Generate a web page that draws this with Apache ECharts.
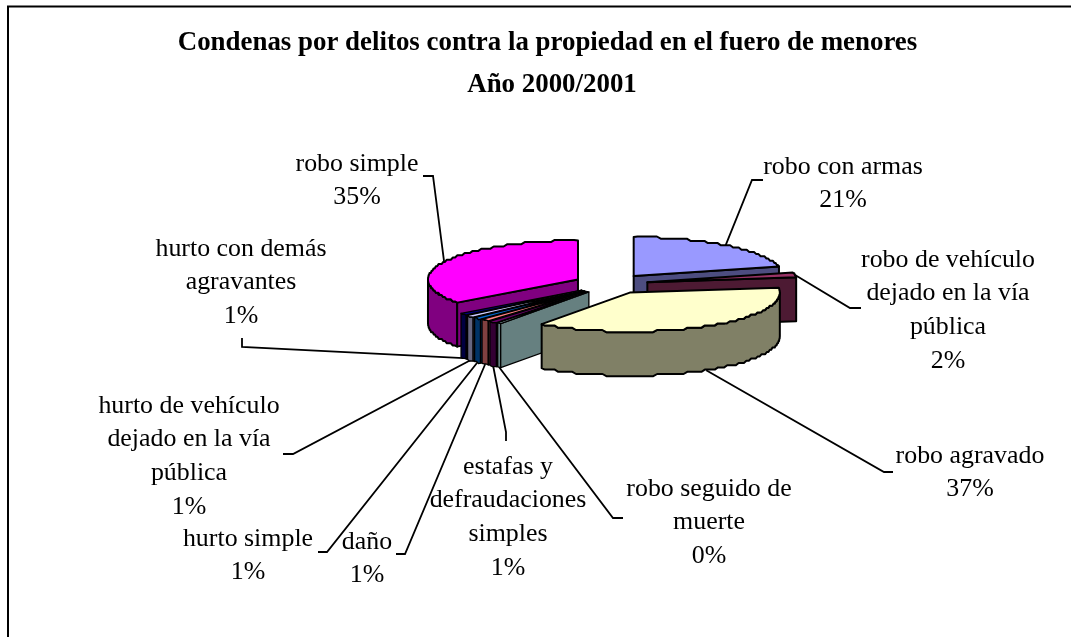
<!DOCTYPE html>
<html><head><meta charset="utf-8">
<style>html,body{margin:0;padding:0;background:#fff}#c{width:1071px;height:637px}</style>
<script src="https://cdn.jsdelivr.net/npm/echarts@6/dist/echarts.min.js"></script>
</head><body><div id="c"></div>
<script>
// ---- data, clockwise from 12 o'clock ----
const categories = ['robo con armas','robo de vehículo\ndejado en la vía\npública','robo agravado','robo seguido de\nmuerte','estafas y\ndefraudaciones\nsimples','daño','hurto simple','hurto de vehículo\ndejado en la vía\npública','hurto con demás\nagravantes','robo simple'];
const values = [21, 2, 37, 0.4, 0.9, 0.9, 0.9, 0.9, 0.9, 35.1];
const colors = ['#9999FF','#993366','#FFFFCC','#CCFFFF','#660066','#FF8080','#0066CC','#CCCCFF','#000080','#FF00FF'];
const sideColors = ['#4D4D80','#4D1A33','#808066','#668080','#330033','#804040','#003366','#666680','#000040','#800080'];
const titleLines = ['Condenas por delitos contra la propiedad en el fuero de menores','Año 2000/2001'];

// ---- layout only ----
const paintOrder = [9,8,7,6,5,4,3,0,1,2];
const labelCenterX = [843,948,970,709,508,367,248,189,241,357];
const labelFirstBaseline = [175,268,464,497,475,550,547,414,257,172];
const leaderElbow = [[752,180],[850,308],[884,472],[613,518],[506,432],[405,554],[327,552],[293,454],[242,347],[433,176]];
const leaderEnd = [[763,180],[861,308],[893,472],[623,518],[506,441],[396,554],[318,552],[283,454],[242,338],[423,176]];
const titleCenterX = [542.5,547];
const titleTop = [23,65];
const PIE = {cx:611, cy:284, rx:150, ry:39, depth:44, explode:37, squash:0.27, stair:2.2};
const FONT = '"Liberation Serif","Times New Roman",serif';
const FS = 25.9, LH = 33.6;

const total = values.reduce((a,b)=>a+b,0);
const rad = d => d*Math.PI/180;
let run = 0;
const slices = values.map(v=>{const a0=run/total*360; run+=v; const a1=run/total*360; return {a0,a1,mid:(a0+a1)/2};});
function apex(s){return [PIE.cx+PIE.explode*Math.sin(rad(s.mid)), PIE.cy-PIE.explode*PIE.squash*Math.cos(rad(s.mid))];}
function rim(c,a){return [c[0]+PIE.rx*Math.sin(rad(a)), c[1]-PIE.ry*Math.cos(rad(a))];}
// rim sampled with a slight stepped edge, as the reference's low-resolution arcs have
function arcPts(c,a,b){
  const n=Math.max(1,Math.ceil(Math.abs(b-a)/1.5));const p=[];
  for(let i=0;i<=n;i++){const q=rim(c,a+(b-a)*i/n);
    if(i>0&&i<n) q[1]=c[1]+Math.round((q[1]-c[1])/PIE.stair)*PIE.stair;
    p.push(q);}
  return p;
}
const down = p => [p[0],p[1]+PIE.depth];
function poly(points,fill,w){return {type:'polygon',shape:{points},style:{fill,stroke:'#000',lineWidth:w,lineJoin:'round'}};}

function renderSlice(params,api){
  const i=api.value(0), s=slices[i], c=apex(s), side=sideColors[i], ch=[];
  const w=values[i]<2?1.3:2;
  const from=Math.max(s.a0,90), to=Math.min(s.a1,270);
  if(to>from){const top=arcPts(c,from,to); ch.push(poly(top.concat(top.slice().reverse().map(down)),side,w));}
  const wall=a=>{const r=rim(c,a); ch.push(poly([c,r,down(r),down(c)],side,w));};
  if(Math.sin(rad(s.a0))<-1e-6) wall(s.a0);
  if(Math.sin(rad(s.a1))>1e-6) wall(s.a1);
  ch.push(poly([c].concat(arcPts(c,s.a0,s.a1)),colors[i],w));
  return {type:'group',children:ch};
}
function renderLabel(params,api){
  const i=api.value(0), s=slices[i], c=apex(s);
  let a=rim(c,s.mid);
  if(s.mid>90&&s.mid<270) a=down(a);
  const pct=Math.round(values[i]/total*100)+'%';
  return {type:'group',children:[
    {type:'polyline',shape:{points:[a,leaderElbow[i],leaderEnd[i]]},style:{fill:null,stroke:'#000',lineWidth:1.8}},
    {type:'text',style:{text:categories[i]+'\n'+pct,x:labelCenterX[i],y:labelFirstBaseline[i]-LH/2-FS*0.31,align:'center',verticalAlign:'top',
      font:FS+'px '+FONT,lineHeight:LH,fill:'#000'}}
  ]};
}
const chart=echarts.init(document.getElementById('c'),null,{renderer:'canvas'});
chart.setOption({
  animation:false,backgroundColor:'#fff',
  title:titleLines.map((t,i)=>({text:t,left:titleCenterX[i],top:titleTop[i],textAlign:'center',
    textStyle:{fontFamily:FONT,fontWeight:'bold',fontSize:26.9,lineHeight:30,color:'#000'}})),
  graphic:[{type:'polyline',silent:true,shape:{points:[[8,637],[8,6.5],[1071,6.5]]},style:{fill:null,stroke:'#000',lineWidth:2}}],
  series:[
    {type:'custom',coordinateSystem:'none',silent:true,data:paintOrder.map(i=>[i]),renderItem:renderSlice,z:3},
    {type:'custom',coordinateSystem:'none',silent:true,data:categories.map((_,i)=>[i]),renderItem:renderLabel,z:2}
  ]
});
</script></body></html>
